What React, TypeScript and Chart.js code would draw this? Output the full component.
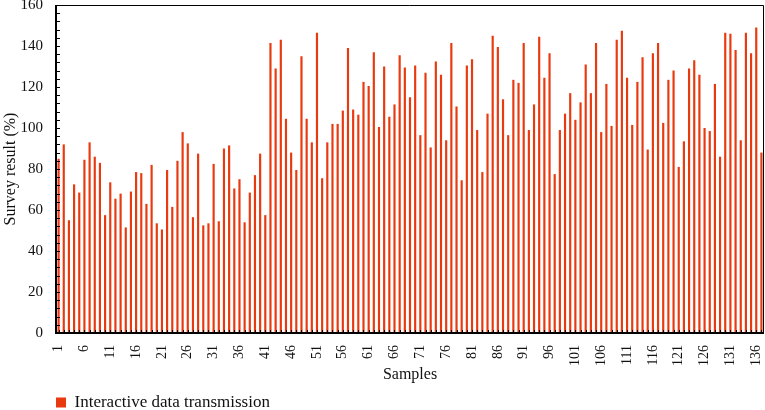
import React, { useEffect, useRef } from "react";
import { Chart, registerables } from "chart.js";

Chart.register(...registerables);

const seriesName = "Interactive data transmission";
const surveyValues: number[] = [
  85, 92, 55, 72.5, 68.5, 84.5, 93, 86, 83, 57.5,
  73.5, 65.5, 68, 51.5, 69, 78.5, 78, 63, 82, 53.5,
  50.5, 79.5, 61.5, 84, 98, 92.5, 56.5, 87.5, 52.5, 53.5,
  82.5, 54.5, 90, 91.5, 70.5, 75, 54, 68.5, 77, 87.5,
  57.5, 141.5, 129, 143, 104.5, 88, 79.5, 135, 104.5, 93,
  146.5, 75.5, 93, 102, 102, 108.5, 139, 109, 106.5, 122.5,
  120.5, 137, 100.5, 130, 105.5, 111.5, 135.5, 129.5, 115, 130.5,
  96.5, 127, 90.5, 132.5, 126, 94, 141.5, 110.5, 74.5, 130.5,
  133.5, 99, 78.5, 107, 145, 139.5, 114, 96.5, 123.5, 122,
  141.5, 99, 111.5, 144.5, 124.5, 136.5, 77.5, 99, 107, 117,
  104, 112.5, 131, 117, 141.5, 98, 121.5, 101, 143, 147.5,
  124.5, 101.5, 122.5, 134.5, 89.5, 136.5, 141.5, 102.5, 123.5, 128,
  81, 93.5, 129, 133, 126, 100, 98.5, 121.5, 86, 146.5,
  146, 138, 94, 146.5, 136.5, 149, 88,
];
const sampleLabels: string[] = surveyValues.map((_, i) => String(i + 1));
const labelEvery = 5;
const yMin = 0;
const yMax = 160;
const yMajorStep = 20;
const yMinorStep = 4;

const BAR_COLOR = "#E9390F";
const FONT = "'Liberation Serif', 'DejaVu Serif', serif";

const framePlugin = {
  id: "frameTicks",
  afterDatasetsDraw(chart: any) {
    const { ctx, chartArea: a, scales } = chart;
    const x = scales.x;
    const y = scales.y;
    ctx.save();
    ctx.strokeStyle = "#000";
    ctx.lineWidth = 1;
    ctx.beginPath();
    for (let v = yMin; v <= yMax; v += yMinorStep) {
      const py = Math.round(y.getPixelForValue(v)) + 0.5;
      ctx.moveTo(a.left, py);
      ctx.lineTo(a.left + 4, py);
    }
    for (let i = 0; i < sampleLabels.length; i++) {
      const px = Math.round(x.getPixelForValue(i)) + 0.5;
      ctx.moveTo(px, a.bottom);
      ctx.lineTo(px, a.bottom - 3);
    }
    ctx.stroke();
    ctx.beginPath();
    ctx.moveTo(a.left, Math.round(a.top) + 0.5);
    ctx.lineTo(Math.round(a.right) - 0.5, Math.round(a.top) + 0.5);
    ctx.lineTo(Math.round(a.right) - 0.5, a.bottom);
    ctx.stroke();
    ctx.lineWidth = 2;
    ctx.beginPath();
    ctx.moveTo(Math.round(a.left), a.top);
    ctx.lineTo(Math.round(a.left), Math.round(a.bottom));
    ctx.lineTo(a.right, Math.round(a.bottom));
    ctx.stroke();
    ctx.restore();
  },
};

export default function App() {
  const canvasRef = useRef<HTMLCanvasElement | null>(null);

  useEffect(() => {
    if (!canvasRef.current) return;
    Chart.defaults.font.family = FONT;
    Chart.defaults.color = "#111";
    const chart = new Chart(canvasRef.current, {
      type: "bar",
      data: {
        labels: sampleLabels,
        datasets: [
          {
            label: seriesName,
            data: surveyValues,
            backgroundColor: BAR_COLOR,
            borderWidth: 0,
            categoryPercentage: 1,
            barPercentage: 0.42,
          },
        ],
      },
      options: {
        responsive: false,
        animation: false,
        layout: { padding: { top: 5, right: 1, left: 0, bottom: -11 } },
        plugins: {
          legend: {
            position: "bottom",
            align: "start",
            fullSize: false,
            labels: {
              boxWidth: 10,
              boxHeight: 10,
              padding: 0,
              color: "#111",
              font: { size: 17, family: FONT },
            },
          },
          tooltip: { enabled: false },
        },
        scales: {
          x: {
            grid: { display: false },
            border: { display: false },
            ticks: {
              autoSkip: false,
              minRotation: 90,
              maxRotation: 90,
              padding: 4,
              color: "#111",
              font: { size: 14, family: FONT },
              callback: (_v: any, i: number) =>
                i % labelEvery === 0 ? sampleLabels[i] : "",
            },
            title: {
              display: true,
              text: "Samples",
              color: "#111",
              font: { size: 16, family: FONT },
              padding: { top: 0, bottom: 10 },
            },
            afterFit: (s: any) => {
              s.height = 61;
              s.paddingLeft = 0;
              s.paddingRight = 0;
            },
          },
          y: {
            min: yMin,
            max: yMax,
            grid: { display: false },
            border: { display: false },
            ticks: {
              stepSize: yMajorStep,
              padding: 5,
              color: "#111",
              font: { size: 15, family: FONT },
            },
            title: {
              display: true,
              text: "Survey result (%)",
              color: "#111",
              font: { size: 16, family: FONT },
              padding: { top: 1, bottom: 0 },
            },
            afterFit: (s: any) => {
              s.width = 56;
              s.paddingTop = 0;
              s.paddingBottom = 0;
            },
          },
        },
      },
      plugins: [framePlugin],
    });
    return () => chart.destroy();
  }, []);

  return (
    <div style={{ position: "absolute", left: 0, top: 0, width: 765, height: 410, background: "#fff" }}>
      <canvas ref={canvasRef} width={765} height={410} style={{ display: "block" }} />
    </div>
  );
}
